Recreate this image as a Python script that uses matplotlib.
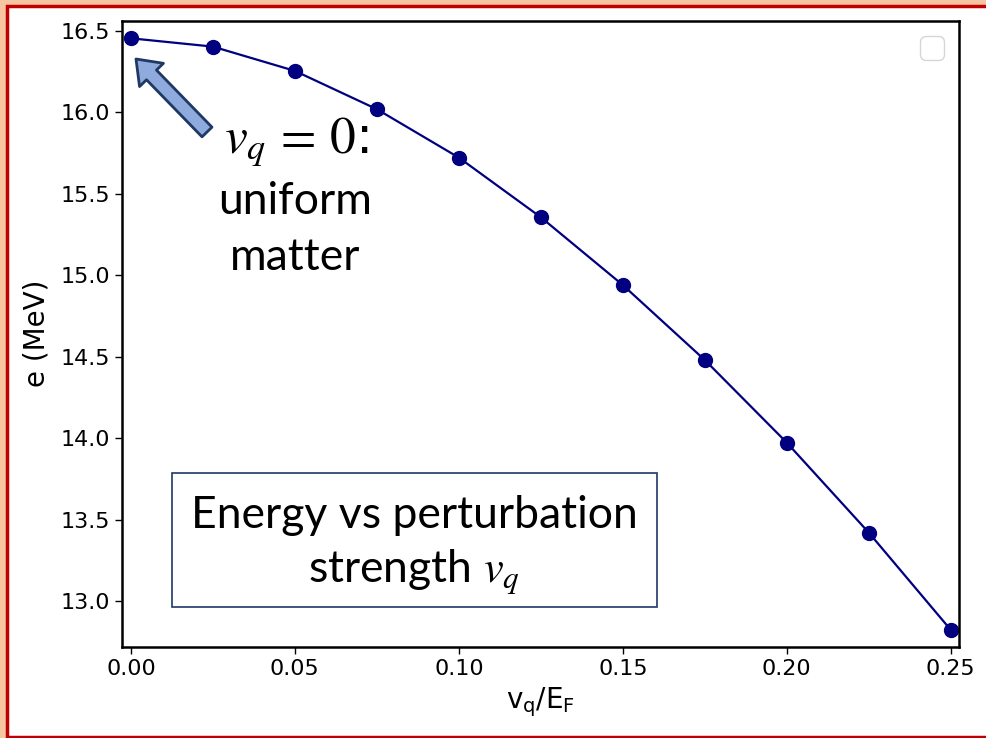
import matplotlib
matplotlib.use("Agg")
import matplotlib.pyplot as plt
from matplotlib.patches import Rectangle, FancyArrowPatch, ArrowStyle

# data
vq_over_ef = [0.000, 0.025, 0.050, 0.075, 0.100, 0.125, 0.150, 0.175, 0.200, 0.225, 0.250]
energy_mev = [16.453, 16.402, 16.253, 16.018, 15.721, 15.355, 14.939, 14.479, 13.972, 13.420, 12.823]

x_ticks = [0.00, 0.05, 0.10, 0.15, 0.20, 0.25]
y_ticks = [13.0, 13.5, 14.0, 14.5, 15.0, 15.5, 16.0, 16.5]

W, H = 986, 738

SALMON = "#f6c6a3"
RED = "#c00000"
NAVY = "#000080"
DARK_EDGE = "#1f3864"
ARROW_FILL = "#8faadc"
SLIDE_FONT = "Lato"


def fx(x):
    return x / W


def fy(y):
    return 1 - y / H


plt.rcParams["mathtext.fontset"] = "stix"

fig = plt.figure(figsize=(W / 100, H / 100), dpi=100, facecolor=SALMON)

# slide frame
fig.patches.append(Rectangle((fx(7), fy(736.5)), fx(1100), fy(5.5) - fy(736.5),
                             transform=fig.transFigure, facecolor="white",
                             edgecolor=RED, linewidth=2.5, zorder=-5))

ax = fig.add_axes([fx(121.7), fy(646.7), fx(959.3) - fx(121.7), fy(20.7) - fy(646.7)])
ax.set_zorder(1)
ax.plot(vq_over_ef, energy_mev, color=NAVY, marker="o", markersize=10, linewidth=1.6)
ax.set_xlim(-0.0028, 0.2526)
ax.set_ylim(12.72, 16.561)
ax.set_xticks(x_ticks)
ax.set_yticks(y_ticks)
ax.set_xticklabels([f"{v:.2f}" for v in x_ticks])
ax.set_yticklabels([f"{v:.1f}" for v in y_ticks])
ax.tick_params(labelsize=16, length=5, width=1)
for spine in ax.spines.values():
    spine.set_linewidth(1.8)
ax.set_xlabel(r"$\mathregular{v_q/E_F}$", fontsize=20, labelpad=5)
ax.set_ylabel("e (MeV)", fontsize=20, labelpad=7)
ax.legend(handles=[], loc="upper right", fontsize=22)

# slide overlays
fig.text(fx(296), fy(142), r"$v_q\,=\,0$:", fontsize=37, ha="center", va="center",
         zorder=6)
fig.text(fx(295), fy(202), "uniform", fontsize=32, family=SLIDE_FONT,
         ha="center", va="center", zorder=6)
fig.text(fx(295), fy(258), "matter", fontsize=32, family=SLIDE_FONT,
         ha="center", va="center", zorder=6)

arrow = FancyArrowPatch((2.07, (H - 132) / 100), (1.36, (H - 59) / 100),
                        transform=fig.dpi_scale_trans,
                        arrowstyle=ArrowStyle.Simple(head_length=1.6, head_width=2.4,
                                                     tail_width=1.0),
                        mutation_scale=10, shrinkA=0, shrinkB=0,
                        facecolor=ARROW_FILL, edgecolor=DARK_EDGE, linewidth=2,
                        zorder=6)
fig.patches.append(arrow)

fig.patches.append(Rectangle((fx(171.7), fy(607.3)), fx(656.7) - fx(171.7),
                             fy(472.7) - fy(607.3), transform=fig.transFigure,
                             facecolor="white", edgecolor=DARK_EDGE, linewidth=1.2,
                             zorder=5))
fig.text(fx(414), fy(515), "Energy vs perturbation", fontsize=32, family=SLIDE_FONT,
         ha="center", va="center", zorder=6)
fig.text(fx(414), fy(572), r"strength $v_q$", fontsize=32, family=SLIDE_FONT,
         ha="center", va="center", zorder=6)

fig.savefig("out.png", dpi=100, facecolor=SALMON)
